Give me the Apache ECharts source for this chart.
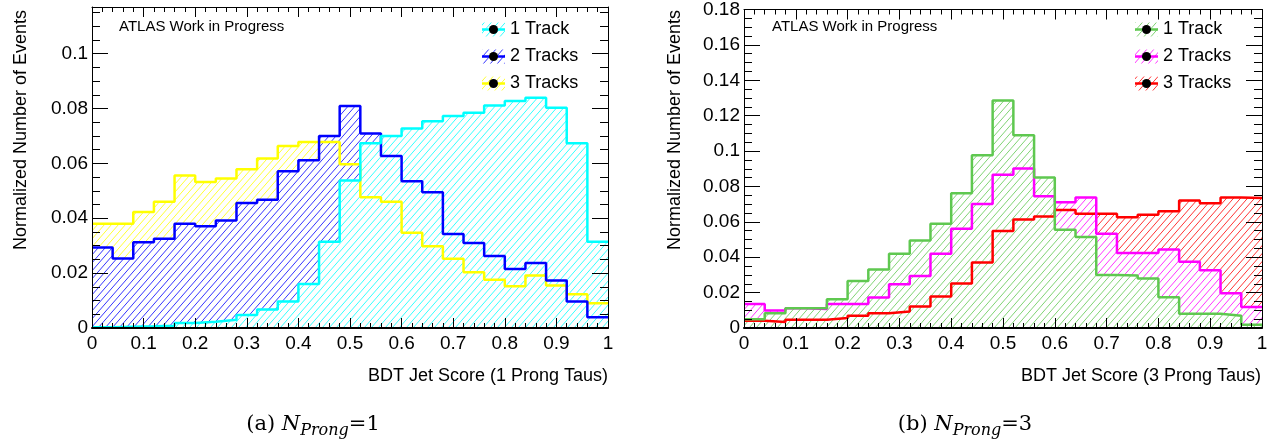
<!DOCTYPE html>
<html>
<head>
<meta charset="utf-8">
<script src="https://cdn.jsdelivr.net/npm/echarts@6/dist/echarts.min.js"></script>
<style>
  html, body { margin: 0; padding: 0; background: #ffffff; }
  #chart { width: 1271px; height: 440px; }
</style>
</head>
<body>
<div id="chart"></div>
<script>
// Bin edges of the BDT jet score histograms (25 bins of width 0.04)
const binEdges = [0, 0.04, 0.08, 0.12, 0.16, 0.2, 0.24, 0.28, 0.32, 0.36, 0.4, 0.44, 0.48,
                  0.52, 0.56, 0.6, 0.64, 0.68, 0.72, 0.76, 0.8, 0.84, 0.88, 0.92, 0.96, 1];

// 1-prong taus: normalized bin contents per track multiplicity
const prong1Track1 = [0.0003, 0.0005, 0.0006, 0.0008, 0.0018, 0.0023, 0.003, 0.0047, 0.0067, 0.0097,
                      0.016, 0.0314, 0.0538, 0.0673, 0.07, 0.0727, 0.0754, 0.0773, 0.0785, 0.0811,
                      0.0827, 0.0839, 0.0803, 0.0673, 0.0314];
const prong1Track2 = [0.0293, 0.0253, 0.0313, 0.0325, 0.038, 0.0371, 0.0392, 0.0456, 0.0467, 0.0571,
                      0.0611, 0.07, 0.0809, 0.0709, 0.0627, 0.0535, 0.0495, 0.0343, 0.031, 0.0262,
                      0.0215, 0.0237, 0.0173, 0.0097, 0.0039];
const prong1Track3 = [0.038, 0.038, 0.0423, 0.046, 0.0556, 0.0532, 0.0545, 0.0579, 0.0618, 0.0663,
                      0.0678, 0.0678, 0.0597, 0.0477, 0.046, 0.0347, 0.0298, 0.0252, 0.0203, 0.0176,
                      0.0152, 0.0191, 0.0155, 0.0123, 0.009];

// 3-prong taus: normalized bin contents per track multiplicity
const prong3Track1 = [0.005, 0.0084, 0.0112, 0.0112, 0.0163, 0.0265, 0.0331, 0.042, 0.0495, 0.0589,
                      0.0761, 0.0976, 0.1286, 0.109, 0.085, 0.0555, 0.0514, 0.0299, 0.0297, 0.028,
                      0.0174, 0.008, 0.008, 0.0069, 0.0019];
const prong3Track2 = [0.0135, 0.0099, 0.0112, 0.0107, 0.0136, 0.0136, 0.0172, 0.0247, 0.0294, 0.042,
                      0.0561, 0.0701, 0.0866, 0.0901, 0.0745, 0.071, 0.0738, 0.0533, 0.0424, 0.0424,
                      0.0443, 0.0374, 0.0327, 0.0196, 0.0118];
const prong3Track3 = [0.0041, 0.0034, 0.0047, 0.0047, 0.0056, 0.0069, 0.0084, 0.0093, 0.0122, 0.0178,
                      0.0252, 0.037, 0.0548, 0.0613, 0.063, 0.0667, 0.0645, 0.0645, 0.0626, 0.064,
                      0.066, 0.072, 0.0705, 0.0738, 0.0734];

const trackLabels = ['1 Track', '2 Tracks', '3 Tracks'];
const xTitles = ['BDT Jet Score (1 Prong Taus)', 'BDT Jet Score (3 Prong Taus)'];
const yTitle = 'Normalized Number of Events';
const stamp = 'ATLAS Work in Progress';

const SANS = '"Liberation Sans", Arial, Helvetica, sans-serif';
const SERIF = '"DejaVu Serif", "Liberation Serif", serif';

// Diagonal "/" hatch on white; the tiles line up across series, so the
// histogram drawn last shows its own hatch where the fills overlap
function hatch(color) {
  const w = 7, h = 8;
  const c = document.createElement('canvas');
  c.width = w; c.height = h;
  const g = c.getContext('2d');
  g.fillStyle = '#ffffff';
  g.fillRect(0, 0, w, h);
  g.strokeStyle = color;
  g.lineWidth = 0.8;
  for (const dx of [-w, 0, w]) {
    g.beginPath();
    g.moveTo(dx, h);
    g.lineTo(dx + w, 0);
    g.stroke();
  }
  return { image: c, repeat: 'repeat' };
}

function stepData(values) {
  return binEdges.map((x, i) => [x, values[Math.min(i, values.length - 1)]]);
}

// Hatched fill of one histogram (outline drawn separately, above all fills)
function histFill(name, values, color, axisIndex) {
  return {
    type: 'line', name: name, xAxisIndex: axisIndex, yAxisIndex: axisIndex,
    step: 'end', symbol: 'none', silent: true, animation: false, z: 2,
    data: stepData(values),
    lineStyle: { width: 0, opacity: 0 },
    itemStyle: { color: color },
    areaStyle: { color: hatch(color), opacity: 1 }
  };
}

function histLine(name, values, color, axisIndex) {
  return {
    type: 'line', name: name, xAxisIndex: axisIndex, yAxisIndex: axisIndex,
    step: 'end', symbol: 'none', silent: true, animation: false, z: 3,
    data: stepData(values),
    lineStyle: { color: color, width: 2.5 },
    itemStyle: { color: color }
  };
}

function xAxes(gridIndex) {
  const common = {
    type: 'value', gridIndex: gridIndex, min: 0, max: 1, interval: 0.1, z: 5,
    splitLine: { show: false },
    axisLine: { show: true, onZero: false, lineStyle: { color: '#000', width: 1 } },
    axisTick: { show: true, inside: true, length: 10, lineStyle: { color: '#000', width: 1 } },
    minorTick: { show: true, splitNumber: 5, length: 5, lineStyle: { color: '#000', width: 1 } }
  };
  return [
    Object.assign({}, common, {
      position: 'bottom',
      axisLine: { show: true, onZero: false, lineStyle: { color: '#000', width: 2 } },
      axisLabel: { show: true, color: '#000', fontSize: 19, fontFamily: SANS, margin: 6 }
    }),
    Object.assign({}, common, { position: 'top', axisLabel: { show: false } })
  ];
}

function yAxes(gridIndex, max) {
  const common = {
    type: 'value', gridIndex: gridIndex, min: 0, max: max, interval: 0.02, z: 5,
    splitLine: { show: false },
    axisLine: { show: true, onZero: false, lineStyle: { color: '#000', width: 1 } },
    axisTick: { show: true, inside: true, length: 16, lineStyle: { color: '#000', width: 1 } },
    minorTick: { show: true, splitNumber: 4, length: 8, lineStyle: { color: '#000', width: 1 } }
  };
  return [
    Object.assign({}, common, {
      position: 'left',
      axisLabel: { show: true, color: '#000', fontSize: 19, fontFamily: SANS, margin: 4,
                   showMaxLabel: max > 0.15 }
    }),
    Object.assign({}, common, { position: 'right', axisLabel: { show: false } })
  ];
}

function legendBlock(x, y0, colors) {
  const items = [];
  colors.forEach((color, i) => {
    const cy = y0 + i * 27;
    items.push({ type: 'rect', shape: { x: x, y: cy - 7, width: 23, height: 14 },
                 style: { fill: hatch(color) }, z: 10 });
    items.push({ type: 'line', shape: { x1: x, y1: cy, x2: x + 23, y2: cy },
                 style: { stroke: color, lineWidth: 2.5 }, z: 11 });
    items.push({ type: 'circle', shape: { cx: x + 11.5, cy: cy, r: 4.5 },
                 style: { fill: '#000' }, z: 12 });
    items.push({ type: 'text', x: x + 28, y: cy, z: 12,
                 style: { text: trackLabels[i], fill: '#000', font: '18px ' + SANS,
                          verticalAlign: 'middle', align: 'left' } });
  });
  return items;
}

// Sub-figure caption: (a) N_Prong=1
function caption(cx, letter, n) {
  return {
    type: 'text', x: cx, y: 425, z: 12,
    style: {
      text: '{p|(' + letter + ') }{n|N}{s|Prong}{p|=' + n + '}',
      align: 'center', verticalAlign: 'middle',
      rich: {
        p: { fontFamily: SERIF, fontSize: 21, fill: '#000', verticalAlign: 'middle', lineHeight: 28 },
        n: { fontFamily: SERIF, fontSize: 21, fontStyle: 'italic', fill: '#000', verticalAlign: 'middle', lineHeight: 28 },
        s: { fontFamily: SERIF, fontSize: 16, fontStyle: 'italic', fill: '#000', verticalAlign: 'bottom', lineHeight: 28 }
      }
    }
  };
}

const colorsA = ['#00ffff', '#0000ff', '#ffff00'];
const colorsB = ['#5fc850', '#ff00ff', '#ff0000'];

const panels = [
  { axis: 0, values: [prong1Track1, prong1Track2, prong1Track3], colors: colorsA },
  { axis: 2, values: [prong3Track1, prong3Track2, prong3Track3], colors: colorsB }
];

// Fills back to front (3 tracks, 2 tracks, 1 track), then outlines in the same order
const series = [];
panels.forEach(p => {
  [2, 1, 0].forEach(k => series.push(histFill(trackLabels[k], p.values[k], p.colors[k], p.axis)));
  [2, 1, 0].forEach(k => series.push(histLine(trackLabels[k], p.values[k], p.colors[k], p.axis)));
});

const chart = echarts.init(document.getElementById('chart'), null, { renderer: 'canvas' });

chart.setOption({
  backgroundColor: '#ffffff',
  animation: false,
  grid: [
    { left: 92, top: 7, width: 516, height: 321, containLabel: false },
    { left: 744, top: 7, width: 518, height: 321, containLabel: false }
  ],
  xAxis: [].concat(xAxes(0), xAxes(1)),
  yAxis: [].concat(yAxes(0, 0.117), yAxes(1, 0.18)),
  series: series,
  graphic: [].concat(
    [
      { type: 'text', x: 119, y: 27, z: 12,
        style: { text: stamp, fill: '#000', font: '15px ' + SANS, verticalAlign: 'middle' } },
      { type: 'text', x: 772, y: 27, z: 12,
        style: { text: stamp, fill: '#000', font: '15px ' + SANS, verticalAlign: 'middle' } },
      { type: 'text', x: 21, y: 10, rotation: Math.PI / 2, z: 12,
        style: { text: yTitle, fill: '#000', font: '18px ' + SANS, align: 'right', verticalAlign: 'middle' } },
      { type: 'text', x: 675, y: 10, rotation: Math.PI / 2, z: 12,
        style: { text: yTitle, fill: '#000', font: '18px ' + SANS, align: 'right', verticalAlign: 'middle' } },
      { type: 'text', x: 608, y: 376, z: 12,
        style: { text: xTitles[0], fill: '#000', font: '18px ' + SANS, align: 'right', verticalAlign: 'middle' } },
      { type: 'text', x: 1261, y: 376, z: 12,
        style: { text: xTitles[1], fill: '#000', font: '18px ' + SANS, align: 'right', verticalAlign: 'middle' } },
      caption(313, 'a', 1),
      caption(965, 'b', 3)
    ],
    legendBlock(482, 29.5, colorsA),
    legendBlock(1135, 29.5, colorsB)
  )
});
</script>
</body>
</html>
